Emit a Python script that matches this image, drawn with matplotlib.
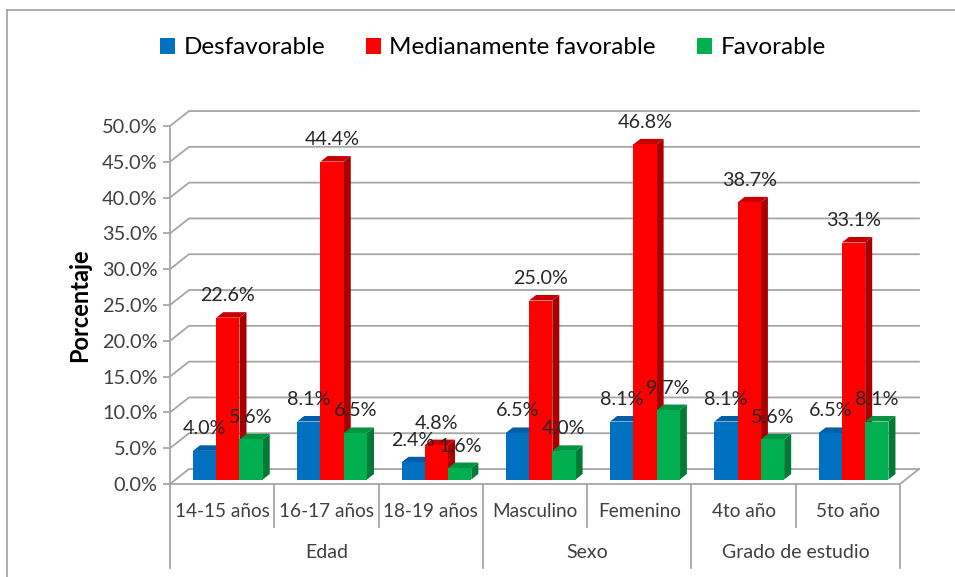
import numpy as np
import matplotlib.pyplot as plt
from matplotlib.patches import Polygon, Patch
from matplotlib.lines import Line2D
from matplotlib.ticker import PercentFormatter

plt.rcParams['font.family'] = ['Lato', 'DejaVu Sans']

categorias = ['14-15 años', '16-17 años', '18-19 años', 'Masculino', 'Femenino', '4to año', '5to año']
grupos = ['Edad', 'Sexo', 'Grado de estudio']
grupo_tam = [3, 2, 2]

series = ['Desfavorable', 'Medianamente favorable', 'Favorable']
desfavorable = [4.0, 8.1, 2.4, 6.5, 8.1, 8.1, 6.5]
medianamente = [22.6, 44.4, 4.8, 25.0, 46.8, 38.7, 33.1]
favorable = [5.6, 6.5, 1.6, 4.0, 9.7, 5.6, 8.1]
valores = [desfavorable, medianamente, favorable]

# front, top, side colours
colores = [('#0070C0', '#005EA6', '#004F8C'),
           ('#FF0000', '#C80000', '#A80000'),
           ('#00B050', '#009442', '#007A36')]
gris = '#A6A6A6'

fig = plt.figure(figsize=(9.55, 5.77), dpi=100)
ax = fig.add_axes([170/955, 93/577, 730/955, 358/577])
n = len(categorias)
ax.set_xlim(0, n)
ax.set_ylim(0, 50)

# depth of the "3d" box in data units
DX, DY = 0.182, 2.09
f = 0.3      # bars front plane
bd = 0.37    # bar depth
w = 0.223

# back wall + side wall gridlines
for v in np.arange(0, 51, 5):
    ax.plot([0, DX, n + DX], [v, v + DY, v + DY], color=gris, lw=1.3, clip_on=False, zorder=1)
ax.plot([n, n + DX], [0, DY], color=gris, lw=1.3, clip_on=False, zorder=1)

# bars
ox, oy = f * DX, f * DY
bx, by = bd * DX, bd * DY
for i in range(n):
    x_start = i + (1 - 3 * w) / 2 + ox
    for s in range(3):
        v = valores[s][i]
        x0 = x_start + s * w
        x1 = x0 + w
        y0 = oy
        y1 = v + oy
        fc, tc, sc = colores[s]
        side = Polygon([(x1, y0), (x1, y1), (x1 + bx, y1 + by), (x1 + bx, y0 + by)],
                       closed=True, fc=sc, ec='none', clip_on=False, zorder=3)
        top = Polygon([(x0, y1), (x1, y1), (x1 + bx, y1 + by), (x0 + bx, y1 + by)],
                      closed=True, fc=tc, ec='none', clip_on=False, zorder=3)
        front = Polygon([(x0, y0), (x1, y0), (x1, y1), (x0, y1)],
                        closed=True, fc=fc, ec='none', clip_on=False, zorder=3)
        ax.add_patch(side)
        ax.add_patch(top)
        ax.add_patch(front)
        ax.annotate('%.1f%%' % v, (x0 + w / 2, y1), xytext=(0, 22), textcoords='offset pixels',
                    ha='center', va='center', fontsize=14.2, color='#262626', zorder=6,
                    annotation_clip=False)

# axes
for sp in ['top', 'right']:
    ax.spines[sp].set_visible(False)
ax.spines['left'].set_color(gris)
ax.spines['bottom'].set_color(gris)
ax.spines['left'].set_linewidth(1.3)
ax.spines['bottom'].set_linewidth(1.3)
ax.set_yticks(np.arange(0, 51, 5))
ax.yaxis.set_major_formatter(PercentFormatter(decimals=1))
ax.tick_params(axis='y', length=5, width=1.3, color=gris, labelsize=14.4, labelcolor='#404040', pad=4)
ax.set_xticks([])
ax.patch.set_visible(False)
ax.set_ylabel('Porcentaje', fontsize=17, fontweight='bold', labelpad=8)

# category labels and separators
tr = ax.get_xaxis_transform()
for i, c in enumerate(categorias):
    ax.text(i + 0.5, -0.078, c, transform=tr, ha='center', va='center', fontsize=13.7, color='#404040')
bordes = np.cumsum([0] + grupo_tam)
for i in range(n + 1):
    bajo = -0.235 if i in bordes else -0.12
    ax.plot([i, i], [0, bajo], transform=tr, color=gris, lw=1.3, clip_on=False)
for g, nombre in enumerate(grupos):
    ax.text((bordes[g] + bordes[g + 1]) / 2, -0.19, nombre, transform=tr, ha='center', va='center',
            fontsize=14, color='#404040')

# legend
handles = [Patch(fc=colores[s][0], ec='none') for s in range(3)]
fig.legend(handles, series, loc='center', bbox_to_anchor=(493/955, 1 - 48/577), ncol=3, frameon=False,
           fontsize=17.5, handlelength=0.6, handleheight=0.6, handletextpad=0.35, columnspacing=1.7)

# chart border
fig.add_artist(Line2D([7/955, 7/955], [0, 1 - 10/577], color='#A0A0A0', lw=1.2))
fig.add_artist(Line2D([7/955, 1], [1 - 10/577, 1 - 10/577], color='#A0A0A0', lw=1.2))

fig.savefig('out.png', dpi=100)
